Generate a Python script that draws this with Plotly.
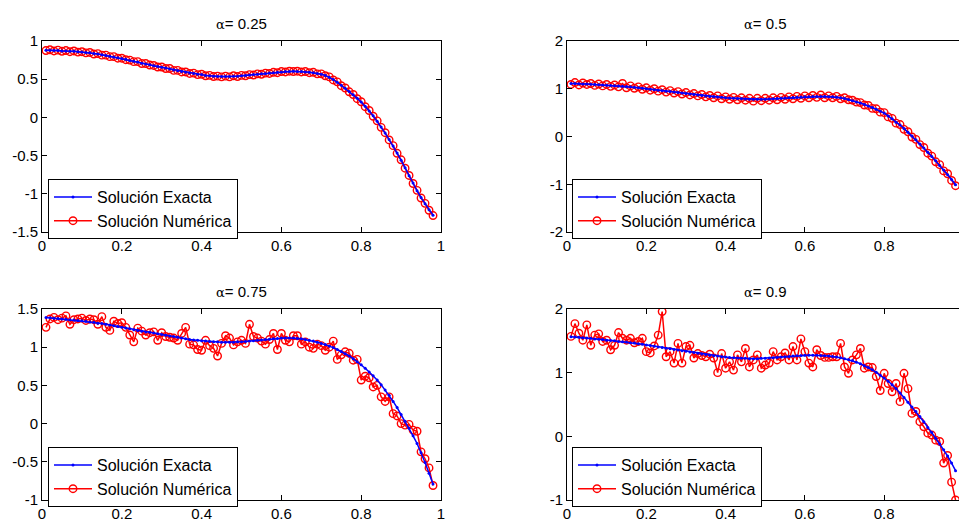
import plotly.graph_objects as go

x_vals = [
    0.01, 0.02, 0.03, 0.04, 0.05, 0.06, 0.07, 0.08, 0.09, 0.10,
    0.11, 0.12, 0.13, 0.14, 0.15, 0.16, 0.17, 0.18, 0.19, 0.20,
    0.21, 0.22, 0.23, 0.24, 0.25, 0.26, 0.27, 0.28, 0.29, 0.30,
    0.31, 0.32, 0.33, 0.34, 0.35, 0.36, 0.37, 0.38, 0.39, 0.40,
    0.41, 0.42, 0.43, 0.44, 0.45, 0.46, 0.47, 0.48, 0.49, 0.50,
    0.51, 0.52, 0.53, 0.54, 0.55, 0.56, 0.57, 0.58, 0.59, 0.60,
    0.61, 0.62, 0.63, 0.64, 0.65, 0.66, 0.67, 0.68, 0.69, 0.70,
    0.71, 0.72, 0.73, 0.74, 0.75, 0.76, 0.77, 0.78, 0.79, 0.80,
    0.81, 0.82, 0.83, 0.84, 0.85, 0.86, 0.87, 0.88, 0.89, 0.90,
    0.91, 0.92, 0.93, 0.94, 0.95, 0.96, 0.97, 0.98,
]

exact_025 = [
    0.88, 0.88, 0.875, 0.875, 0.87, 0.87, 0.865, 0.865, 0.86, 0.855,
    0.85, 0.845, 0.835, 0.83, 0.82, 0.81, 0.80, 0.79, 0.78, 0.77,
    0.76, 0.745, 0.735, 0.725, 0.71, 0.70, 0.69, 0.675, 0.665, 0.655,
    0.645, 0.635, 0.62, 0.61, 0.60, 0.59, 0.58, 0.575, 0.565, 0.56,
    0.55, 0.545, 0.54, 0.535, 0.535, 0.535, 0.535, 0.54, 0.54, 0.545,
    0.55, 0.555, 0.56, 0.565, 0.57, 0.575, 0.58, 0.585, 0.59, 0.595,
    0.60, 0.60, 0.605, 0.60, 0.60, 0.595, 0.59, 0.585, 0.575, 0.565,
    0.55, 0.525, 0.495, 0.46, 0.42, 0.38, 0.34, 0.295, 0.25, 0.20,
    0.145, 0.085, 0.02, -0.05, -0.125, -0.205, -0.29, -0.375, -0.465, -0.56,
    -0.66, -0.765, -0.86, -0.96, -1.05, -1.13, -1.21, -1.28,
]
numeric_025 = [
    0.875, 0.885, 0.87, 0.88, 0.865, 0.875, 0.86, 0.87, 0.855, 0.86,
    0.845, 0.85, 0.83, 0.835, 0.815, 0.815, 0.795, 0.795, 0.775, 0.775,
    0.755, 0.75, 0.73, 0.73, 0.705, 0.705, 0.685, 0.68, 0.66, 0.66,
    0.64, 0.64, 0.615, 0.615, 0.595, 0.595, 0.575, 0.58, 0.56, 0.565,
    0.545, 0.55, 0.535, 0.54, 0.53, 0.54, 0.53, 0.545, 0.535, 0.55,
    0.545, 0.56, 0.555, 0.57, 0.565, 0.58, 0.575, 0.59, 0.585, 0.60,
    0.595, 0.605, 0.60, 0.605, 0.595, 0.60, 0.585, 0.59, 0.57, 0.57,
    0.545, 0.53, 0.49, 0.465, 0.415, 0.385, 0.335, 0.30, 0.245, 0.205,
    0.14, 0.09, 0.015, -0.045, -0.13, -0.20, -0.295, -0.37, -0.47, -0.555,
    -0.665, -0.76, -0.865, -0.955, -1.055, -1.125, -1.215, -1.285,
]

exact_050 = [
    1.11, 1.11, 1.105, 1.10, 1.10, 1.095, 1.09, 1.085, 1.08, 1.075,
    1.07, 1.065, 1.06, 1.05, 1.045, 1.04, 1.03, 1.02, 1.01, 1.00,
    0.99, 0.98, 0.97, 0.96, 0.95, 0.94, 0.93, 0.92, 0.91, 0.90,
    0.89, 0.88, 0.87, 0.86, 0.85, 0.84, 0.835, 0.825, 0.82, 0.81,
    0.805, 0.80, 0.795, 0.79, 0.785, 0.78, 0.78, 0.78, 0.78, 0.78,
    0.785, 0.79, 0.795, 0.80, 0.805, 0.81, 0.815, 0.82, 0.825, 0.83,
    0.835, 0.84, 0.84, 0.84, 0.84, 0.835, 0.83, 0.82, 0.81, 0.795,
    0.775, 0.75, 0.725, 0.70, 0.67, 0.64, 0.605, 0.57, 0.53, 0.49,
    0.43, 0.37, 0.30, 0.24, 0.17, 0.09, 0.01, -0.07, -0.155, -0.24,
    -0.33, -0.42, -0.51, -0.605, -0.70, -0.80, -0.90, -1.01,
]
numeric_050 = [
    1.09, 1.13, 1.08, 1.12, 1.09, 1.11, 1.07, 1.10, 1.06, 1.09,
    1.05, 1.08, 1.04, 1.11, 1.02, 1.06, 1.01, 1.04, 0.99, 1.02,
    0.97, 1.00, 0.95, 0.98, 0.93, 0.96, 0.91, 0.94, 0.89, 0.92,
    0.87, 0.90, 0.85, 0.88, 0.83, 0.86, 0.81, 0.85, 0.79, 0.83,
    0.78, 0.82, 0.77, 0.81, 0.76, 0.80, 0.74, 0.80, 0.75, 0.80,
    0.76, 0.81, 0.77, 0.82, 0.78, 0.83, 0.79, 0.84, 0.80, 0.85,
    0.81, 0.86, 0.82, 0.87, 0.81, 0.85, 0.81, 0.84, 0.79, 0.81,
    0.77, 0.76, 0.72, 0.71, 0.66, 0.65, 0.59, 0.58, 0.51, 0.50,
    0.41, 0.38, 0.28, 0.25, 0.15, 0.10, -0.01, -0.06, -0.17, -0.23,
    -0.35, -0.41, -0.53, -0.59, -0.72, -0.78, -0.92, -1.03,
]

exact_075 = [
    1.39, 1.385, 1.38, 1.375, 1.37, 1.365, 1.36, 1.355, 1.35, 1.345,
    1.34, 1.33, 1.325, 1.315, 1.31, 1.30, 1.29, 1.28, 1.27, 1.26,
    1.25, 1.24, 1.23, 1.22, 1.21, 1.20, 1.195, 1.185, 1.175, 1.165,
    1.155, 1.145, 1.14, 1.13, 1.12, 1.11, 1.10, 1.095, 1.09, 1.085,
    1.08, 1.075, 1.07, 1.07, 1.065, 1.065, 1.065, 1.065, 1.07, 1.07,
    1.075, 1.08, 1.085, 1.09, 1.095, 1.10, 1.105, 1.11, 1.115, 1.12,
    1.12, 1.12, 1.12, 1.115, 1.11, 1.10, 1.09, 1.08, 1.065, 1.05,
    1.035, 1.015, 0.995, 0.97, 0.945, 0.915, 0.885, 0.85, 0.81, 0.77,
    0.725, 0.675, 0.625, 0.57, 0.51, 0.44, 0.37, 0.29, 0.21, 0.12,
    0.03, -0.06, -0.16, -0.26, -0.38, -0.51, -0.65, -0.79,
]
numeric_075 = [
    1.26, 1.37, 1.39, 1.36, 1.38, 1.41, 1.30, 1.36, 1.37, 1.38,
    1.35, 1.37, 1.36, 1.30, 1.40, 1.26, 1.22, 1.34, 1.31, 1.32,
    1.26, 1.16, 1.07, 1.25, 1.21, 1.16, 1.19, 1.20, 1.09, 1.19,
    1.14, 1.13, 1.12, 1.09, 1.18, 1.26, 1.04, 1.03, 0.97, 0.96,
    1.09, 1.02, 0.985, 0.885, 1.05, 1.15, 1.12, 1.03, 1.07, 1.09,
    1.05, 1.30, 1.14, 1.12, 1.08, 1.04, 1.10, 1.18, 0.97, 1.18,
    1.09, 1.07, 1.15, 1.15, 1.04, 1.07, 1.00, 0.985, 1.04, 1.02,
    0.96, 1.00, 1.08, 0.84, 0.90, 0.94, 0.92, 0.83, 0.84, 0.57,
    0.62, 0.60, 0.48, 0.50, 0.35, 0.29, 0.35, 0.13, 0.10, 0.00,
    -0.02, -0.01, -0.085, -0.10, -0.37, -0.46, -0.58, -0.81,
]

exact_090 = [
    1.565, 1.56, 1.555, 1.55, 1.545, 1.54, 1.53, 1.525, 1.52, 1.51,
    1.505, 1.50, 1.49, 1.485, 1.48, 1.47, 1.465, 1.455, 1.445, 1.435,
    1.425, 1.415, 1.405, 1.395, 1.385, 1.375, 1.365, 1.355, 1.345, 1.335,
    1.325, 1.315, 1.305, 1.295, 1.285, 1.275, 1.265, 1.26, 1.25, 1.245,
    1.24, 1.235, 1.23, 1.225, 1.225, 1.22, 1.22, 1.22, 1.225, 1.225,
    1.23, 1.235, 1.24, 1.245, 1.25, 1.255, 1.26, 1.265, 1.27, 1.275,
    1.275, 1.275, 1.275, 1.27, 1.265, 1.26, 1.255, 1.245, 1.235, 1.22,
    1.205, 1.19, 1.165, 1.14, 1.11, 1.08, 1.045, 1.005, 0.96, 0.915,
    0.865, 0.81, 0.75, 0.68, 0.61, 0.535, 0.46, 0.39, 0.31, 0.23,
    0.14, 0.06, -0.03, -0.12, -0.21, -0.31, -0.42, -0.54,
]
numeric_090 = [
    1.57, 1.77, 1.62, 1.51, 1.75, 1.43, 1.59, 1.61, 1.49, 1.51,
    1.36, 1.43, 1.63, 1.54, 1.51, 1.54, 1.47, 1.49, 1.54, 1.33,
    1.31, 1.42, 1.59, 1.96, 1.25, 1.33, 1.15, 1.46, 1.15, 1.41,
    1.43, 1.23, 1.30, 1.27, 1.25, 1.29, 1.23, 1.00, 1.30, 1.07,
    1.17, 1.04, 1.28, 1.17, 1.38, 1.09, 1.20, 1.28, 1.07, 1.12,
    1.15, 1.33, 1.20, 1.25, 1.31, 1.20, 1.41, 1.20, 1.53, 1.33,
    1.15, 1.09, 1.36, 1.27, 1.24, 1.24, 1.25, 1.25, 1.46, 1.09,
    0.99, 1.20, 1.28, 1.38, 1.07, 1.09, 1.08, 0.94, 0.72, 0.99,
    0.83, 0.70, 0.83, 0.545, 0.99, 0.75, 0.36, 0.39, 0.23, 0.15,
    0.05, 0.02, -0.06, -0.08, -0.42, -0.30, -0.72, -1.00,
]

alpha_labels = ["0.25", "0.5", "0.75", "0.9"]
exact_series = [exact_025, exact_050, exact_075, exact_090]
numeric_series = [numeric_025, numeric_050, numeric_075, numeric_090]
name_exact = "Solución Exacta"
name_numeric = "Solución Numérica"

y_ticks = [
    [-1.5, -1, -0.5, 0, 0.5, 1],
    [-2, -1, 0, 1, 2],
    [-1, -0.5, 0, 0.5, 1, 1.5],
    [-1, 0, 1, 2],
]
y_ticktext = [
    ["-1.5", "-1", "-0.5", "0", "0.5", "1"],
    ["-2", "-1", "0", "1", "2"],
    ["-1", "-0.5", "0", "0.5", "1", "1.5"],
    ["-1", "0", "1", "2"],
]
y_ranges = [[-1.5, 1], [-2, 2], [-1, 1.5], [-1, 2]]
x_ticks_left = [0, 0.2, 0.4, 0.6, 0.8, 1]
x_ticktext_left = ["0", "0.2", "0.4", "0.6", "0.8", "1"]
x_ticks_right = [0, 0.2, 0.4, 0.6, 0.8]
x_ticktext_right = ["0", "0.2", "0.4", "0.6", "0.8"]

W, H = 959, 521
FONT = "Liberation Sans, Arial, Helvetica, sans-serif"

# pixel geometry of the four axes boxes
x_dom_left = [42 / W, 441 / W]
x_dom_right = [567 / W, 1.0]
y_dom_top = [(H - 232) / H, (H - 41) / H]
y_dom_bot = [(H - 500) / H, (H - 309) / H]

fig = go.Figure()

for i in range(4):
    ax = "" if i == 0 else str(i + 1)
    leg = "legend" if i == 0 else "legend" + str(i + 1)
    fig.add_trace(go.Scatter(
        x=x_vals, y=numeric_series[i], name=name_numeric,
        mode="lines+markers",
        line=dict(color="#ff0000", width=1.5),
        marker=dict(symbol="circle-open", size=7.5, color="#ff0000",
                    line=dict(width=1.4, color="#ff0000")),
        xaxis="x" + ax, yaxis="y" + ax, legend=leg, legendrank=2,
    ))
    fig.add_trace(go.Scatter(
        x=x_vals, y=exact_series[i], name=name_exact,
        mode="lines+markers",
        line=dict(color="#0000ff", width=1.5),
        marker=dict(symbol="circle", size=3, color="#0000ff"),
        xaxis="x" + ax, yaxis="y" + ax, legend=leg, legendrank=1,
    ))

axis_common = dict(
    showline=True, linecolor="#000000", linewidth=1,
    ticks="inside", ticklen=5, tickcolor="#000000",
    showgrid=False, zeroline=False, automargin=False,
    tickfont=dict(family=FONT, size=15, color="#000000"),
)

layout = dict(
    width=W, height=H,
    margin=dict(l=0, r=0, t=0, b=0, pad=0, autoexpand=False),
    paper_bgcolor="white", plot_bgcolor="white",
    font=dict(family=FONT, size=15, color="#000000"),
    showlegend=True,
)

for i in range(4):
    ax = "" if i == 0 else str(i + 1)
    left = i in (0, 2)
    top = i in (0, 1)
    xd = x_dom_left if left else x_dom_right
    yd = y_dom_top if top else y_dom_bot
    layout["xaxis" + ax] = dict(
        axis_common, domain=xd, anchor="y" + ax,
        range=[0, 1] if left else [0, 0.9887],
        tickmode="array",
        tickvals=x_ticks_left if left else x_ticks_right,
        ticktext=x_ticktext_left if left else x_ticktext_right,
        mirror="ticks",
    )
    layout["yaxis" + ax] = dict(
        axis_common, domain=yd, anchor="x" + ax,
        range=y_ranges[i], tickmode="array",
        tickvals=y_ticks[i], ticktext=y_ticktext[i],
        mirror="ticks" if left else False,
    )
    leg = "legend" if i == 0 else "legend" + str(i + 1)
    layout[leg] = dict(
        x=(48 if left else 572) / W,
        y=((H - 179) if top else (H - 447)) / H,
        xanchor="left", yanchor="top",
        bgcolor="white", bordercolor="#000000", borderwidth=1,
        font=dict(family=FONT, size=16, color="#000000"),
        itemwidth=38, tracegroupgap=0,
    )

fig.update_layout(**layout)

title_pos = [
    (241 / W, (H - 24) / H),
    (765 / W, (H - 24) / H),
    (241 / W, (H - 291) / H),
    (765 / W, (H - 291) / H),
]
for i in range(4):
    fig.add_annotation(
        x=title_pos[i][0], y=title_pos[i][1], xref="paper", yref="paper",
        xanchor="center", yanchor="middle", showarrow=False,
        text="<span style='font-size:13px;font-family:DejaVu Serif'>α</span>= " + alpha_labels[i],
        font=dict(family=FONT, size=15, color="#000000"),
    )

post_js = (
    "var s=document.createElement('style');"
    "s.innerHTML='html,body{margin:0 !important;padding:0 !important;"
    "overflow:hidden !important;width:959px;height:521px;}';"
    "document.head.appendChild(s);"
    "var d=document.getElementById('{plot_id}');"
    "d.style.position='fixed';d.style.top='0px';d.style.left='0px';"
)

fig.write_html(
    "out.html",
    config={"displayModeBar": False},
    post_script=post_js,
)
